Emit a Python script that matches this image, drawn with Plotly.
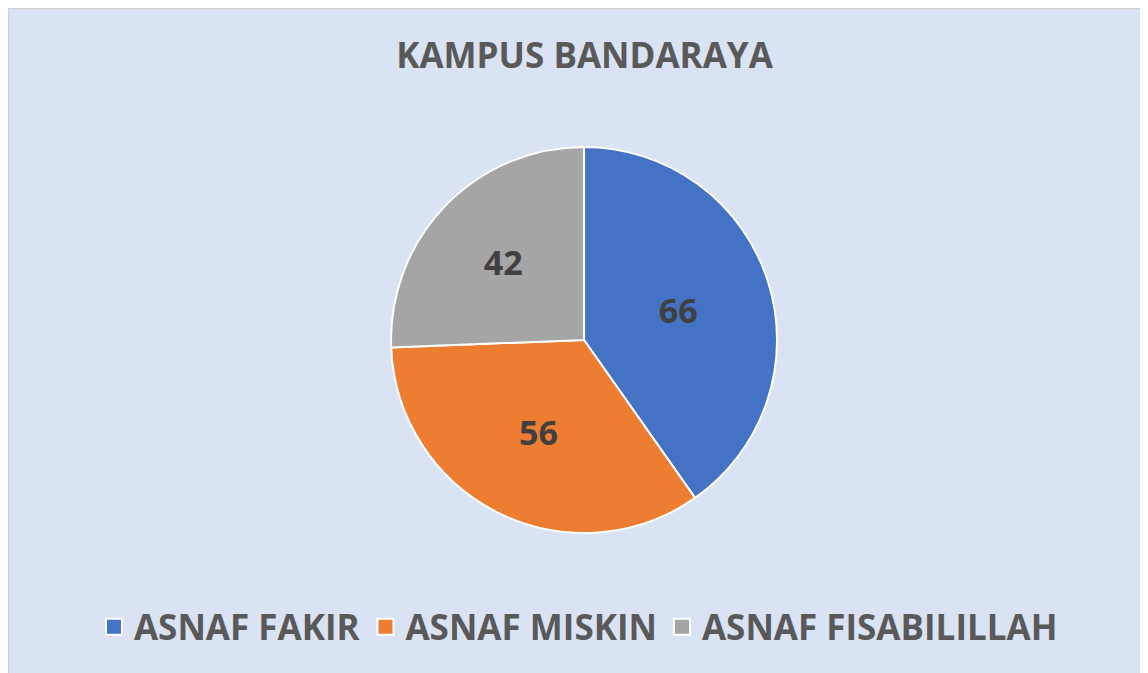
import plotly.graph_objects as go

# page body has an 8px margin, so the figure is a bit smaller than the window
W, H = 1140, 665

labels = ["ASNAF FAKIR", "ASNAF MISKIN", "ASNAF FISABILILLAH"]
values = [66, 56, 42]
colors = ["#4472c4", "#ed7d31", "#a5a5a5"]

fig = go.Figure()

fig.add_trace(go.Pie(
    labels=labels,
    values=values,
    sort=False,
    direction="clockwise",
    rotation=0,
    marker=dict(colors=colors, line=dict(color="white", width=2)),
    textinfo="value",
    textposition="inside",
    insidetextorientation="horizontal",
    textfont=dict(family="Open Sans", size=34, color="#404040", weight="bold"),
    domain=dict(x=[0.3360, 0.6746], y=[0.2105, 0.7910]),
    hoverinfo="label+value",
    showlegend=False,
))

# legend entries with bigger square swatches than the pie legend gives
for name, c in zip(labels, colors):
    fig.add_trace(go.Scatter(
        x=[None], y=[None], mode="markers", name=name,
        marker=dict(symbol="square", size=20, color=c,
                    line=dict(color="white", width=2)),
        hoverinfo="skip",
    ))

fig.update_layout(
    width=W,
    height=H,
    margin=dict(l=0, r=0, t=0, b=0),
    paper_bgcolor="white",
    plot_bgcolor="rgba(0,0,0,0)",
    xaxis=dict(visible=False),
    yaxis=dict(visible=False),
    title=dict(
        text="<b>KAMPUS BANDARAYA</b>",
        x=0.5057, xanchor="center",
        y=1 - 48 / H, yanchor="middle",
        font=dict(family="Open Sans", size=35, color="#595959"),
    ),
    legend=dict(
        orientation="h",
        x=0.5004, xanchor="center",
        y=1 - 619 / H, yanchor="middle",
        font=dict(family="Open Sans", size=35, color="#595959", weight="bold"),
        itemsizing="trace",
        itemwidth=30,
        bgcolor="rgba(0,0,0,0)",
    ),
    shapes=[dict(
        type="rect", xref="paper", yref="paper",
        x0=0.5 / W, x1=1.01, y0=-0.01, y1=1 - 0.5 / H,
        fillcolor="#dae3f3", line=dict(color="#d0d0d0", width=1.5),
        layer="below",
    )],
)

fig.write_html("out.html")
